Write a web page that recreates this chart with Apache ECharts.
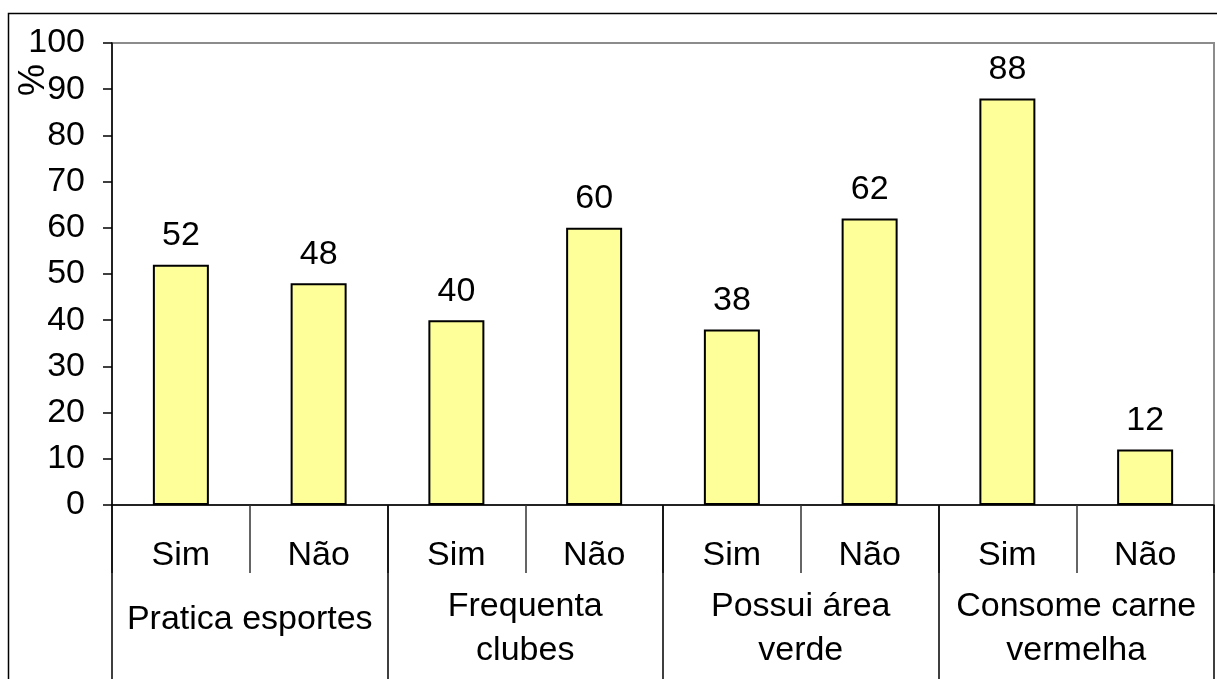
<!DOCTYPE html>
<html>
<head>
<meta charset="utf-8">
<script src="https://cdn.jsdelivr.net/npm/echarts@6/dist/echarts.min.js"></script>
<style>html,body{margin:0;padding:0;background:#fff}#c{width:1217px;height:679px}</style>
</head>
<body>
<div id="c"></div>
<script>
const answers = ['Sim','Não','Sim','Não','Sim','Não','Sim','Não'];
const groups = ['Pratica esportes','Frequenta\nclubes','Possui área\nverde','Consome carne\nvermelha'];
const values = [52,48,40,60,38,62,88,12];
const yTicks = {min:0, max:100, interval:10};
const yName = '%';

const FONT = 'Liberation Sans, Arial, sans-serif';
const FS = 34;
const chart = echarts.init(document.getElementById('c'), null, {renderer:'canvas'});
chart.setOption({
  animation:false,
  backgroundColor:'#fff',
  grid:{left:112, top:43, right:3, bottom:174, show:true, borderColor:'#8c8c8c', borderWidth:2, containLabel:false},
  graphic:[
    {type:'rect', shape:{x:8.5,y:13.5,width:1400,height:900}, style:{fill:'none', stroke:'#000', lineWidth:1.5}, silent:true},
    {type:'text', x:34, y:80, rotation:Math.PI/2, style:{text:yName, font:'36px '+FONT, fill:'#000', align:'center', verticalAlign:'middle'}}
  ],
  xAxis:[
    {type:'category', data:answers, position:'bottom',
     axisLine:{show:true, lineStyle:{color:'#000', width:1.5}},
     axisTick:{show:true, length:68, lineStyle:{color:'#333', width:1.5}},
     axisLabel:{interval:0, margin:34, color:'#000', fontSize:FS, fontFamily:FONT, lineHeight:34},
     splitLine:{show:false}},
    {type:'category', data:groups, position:'bottom', offset:0,
     axisLine:{show:false},
     axisTick:{show:true, length:174, lineStyle:{color:'#000', width:1.5}},
     axisLabel:{interval:0, margin:80, color:'#000', fontSize:FS, fontFamily:FONT,
       formatter:function(v){ return v.indexOf('\n')>=0 ? v.split('\n').map(s=>'{b|'+s+'}').join('\n') : '{s|'+v+'}'; },
       rich:{b:{fontSize:FS, fontFamily:FONT, lineHeight:44, color:'#000'}, s:{fontSize:FS, fontFamily:FONT, lineHeight:70, color:'#000'}}},
     splitLine:{show:false}},
  ],
  yAxis:{type:'value', min:yTicks.min, max:yTicks.max, interval:yTicks.interval,
    axisLine:{show:true, lineStyle:{color:'#000', width:1.5}},
    axisTick:{show:true, length:9, lineStyle:{color:'#000', width:1.5}},
    axisLabel:{margin:27, color:'#000', fontSize:FS, fontFamily:FONT},
    splitLine:{show:false}},
  series:[{type:'bar', xAxisIndex:0, data:values, barWidth:56,
    itemStyle:{color:'#FFFF99', borderColor:'#000', borderWidth:2},
    label:{show:true, position:'top', distance:12, color:'#000', fontSize:FS, fontFamily:FONT}}]
});
</script>
</body>
</html>
